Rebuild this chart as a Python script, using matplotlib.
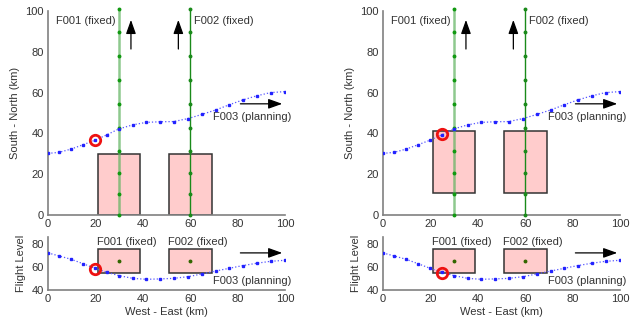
import matplotlib
matplotlib.use('Agg')
import matplotlib.pyplot as plt
from matplotlib.patches import Rectangle

plt.rcParams['font.family'] = ['Liberation Sans', 'DejaVu Sans']
plt.rcParams['font.size'] = 8

# F003 track (planning), sampled points
f003_x = [0, 4.6, 9.7, 14.7, 19.9, 24.8, 29.9, 35.8, 41.4, 47.1, 53.0, 59.2, 64.9, 70.8, 76.4, 82.2, 88.0, 93.9, 100]
f003_y = [30.2, 30.7, 32.3, 34.4, 36.7, 39.3, 42.2, 44.2, 45.4, 45.7, 45.8, 47.3, 49.3, 51.5, 54.0, 56.4, 58.4, 60.0, 60.5]
f003_fl = [72.2, 69.6, 66.7, 62.9, 58.8, 55.4, 52.5, 50.1, 49.3, 49.6, 50.1, 51.6, 53.9, 56.5, 58.8, 61.2, 63.2, 64.9, 65.8]

# F001 / F002 fixed tracks (north-bound)
f001_x = 30
f002_x = 60
fixed_y = [0, 10.1, 20.4, 31.5, 42.7, 54.5, 66.1, 77.8, 89.6, 100.8]
fixed_fl = 65

# conflict boxes: x ranges, plan y ranges per panel, flight level range
box_x = [(21, 39), (51, 69)]
box_y = [(0, 30), (11, 41)]
box_fl = (55, 75.5)

# current aircraft position per panel
pos_x = [20, 25]
pos_y = [37, 39.5]
pos_fl = [58.5, 55]

fig = plt.figure(figsize=(6.43, 3.24), dpi=100)

lefts = [48 / 643, 383 / 643]
w = 237 / 643


def style(ax):
    for s in ['top', 'right']:
        ax.spines[s].set_visible(False)
    for s in ['left', 'bottom']:
        ax.spines[s].set_color('#808080')
        ax.spines[s].set_linewidth(1.2)
    ax.tick_params(direction='in', length=0, labelcolor='#333333', labelsize=8, pad=3)


def arrow(ax, x0, y0, x1, y1, c='k'):
    ax.annotate('', xy=(x1, y1), xytext=(x0, y0),
                arrowprops=dict(arrowstyle='-|>,head_width=0.25,head_length=0.7',
                                color=c, lw=0.9, mutation_scale=12))


for i in range(2):
    # plan view
    ax = fig.add_axes([lefts[i], 109 / 324, w, 204 / 324])
    style(ax)
    for (x0, x1) in box_x:
        ax.add_patch(Rectangle((x0, box_y[i][0]), x1 - x0, box_y[i][1] - box_y[i][0],
                               facecolor='#ffcccc', edgecolor='#333333', lw=1.1, zorder=2))
    ax.plot([f001_x] * len(fixed_y), fixed_y, color='#5fb35f', alpha=0.7, lw=1.8, zorder=3, clip_on=False)
    ax.plot([f001_x] * len(fixed_y), fixed_y, 'o', color='#119911', ms=1.8, zorder=4, clip_on=False)
    ax.plot([f002_x] * len(fixed_y), fixed_y, '-o', color='#1a8a1a', lw=1, ms=1.8, zorder=3, clip_on=False)
    ax.plot(f003_x, f003_y, ':', color='#5555ff', lw=0.9, zorder=3)
    ax.plot(f003_x, f003_y, 's', color='#2222ff', ms=1.8, zorder=4)
    ax.plot(pos_x[i], pos_y[i], 'o', mfc='none', mec='#ee1111', ms=7.5, mew=2, zorder=5)
    arrow(ax, 35, 80, 35, 97)
    arrow(ax, 55, 80, 55, 97)
    arrow(ax, 80, 54.5, 100, 54.5)
    ax.text(28.5, 95, 'F001 (fixed)', ha='right', va='center', color='#333333')
    ax.text(61.5, 95, 'F002 (fixed)', ha='left', va='center', color='#333333')
    ax.text(102.5, 47.8, 'F003 (planning)', ha='right', va='center', color='#333333')
    ax.set_xlim(0, 100)
    ax.set_ylim(0, 100)
    ax.set_xticks([0, 20, 40, 60, 80, 100])
    ax.set_yticks([0, 20, 40, 60, 80, 100])
    ax.set_ylabel('South - North (km)', color='#333333')

    # vertical profile
    ax2 = fig.add_axes([lefts[i], 34 / 324, w, 53 / 324])
    style(ax2)
    for (x0, x1) in box_x:
        ax2.add_patch(Rectangle((x0, box_fl[0]), x1 - x0, box_fl[1] - box_fl[0],
                                facecolor='#ffcccc', edgecolor='#333333', lw=1.1, zorder=2))
    ax2.plot([f001_x, f002_x], [fixed_fl, fixed_fl], 'o', color='#336600', ms=1.8, zorder=3)
    ax2.plot(f003_x, f003_fl, ':', color='#5555ff', lw=0.9, zorder=3)
    ax2.plot(f003_x, f003_fl, 's', color='#2222ff', ms=1.8, zorder=4)
    ax2.plot(pos_x[i], pos_fl[i], 'o', mfc='none', mec='#ee1111', ms=7.5, mew=2, zorder=5)
    arrow(ax2, 80, 72.2, 100, 72.2)
    ax2.text(20.5, 77, 'F001 (fixed)', ha='left', va='bottom', color='#333333')
    ax2.text(50.5, 77, 'F002 (fixed)', ha='left', va='bottom', color='#333333')
    ax2.text(102.5, 47.8, 'F003 (planning)', ha='right', va='center', color='#333333')
    ax2.set_xlim(0, 100)
    ax2.set_ylim(40, 86)
    ax2.set_xticks([0, 20, 40, 60, 80, 100])
    ax2.set_yticks([40, 60, 80])
    ax2.set_xlabel('West - East (km)', color='#333333', labelpad=2)
    ax2.set_ylabel('Flight Level', color='#333333')

fig.savefig('out.png', dpi=100)
